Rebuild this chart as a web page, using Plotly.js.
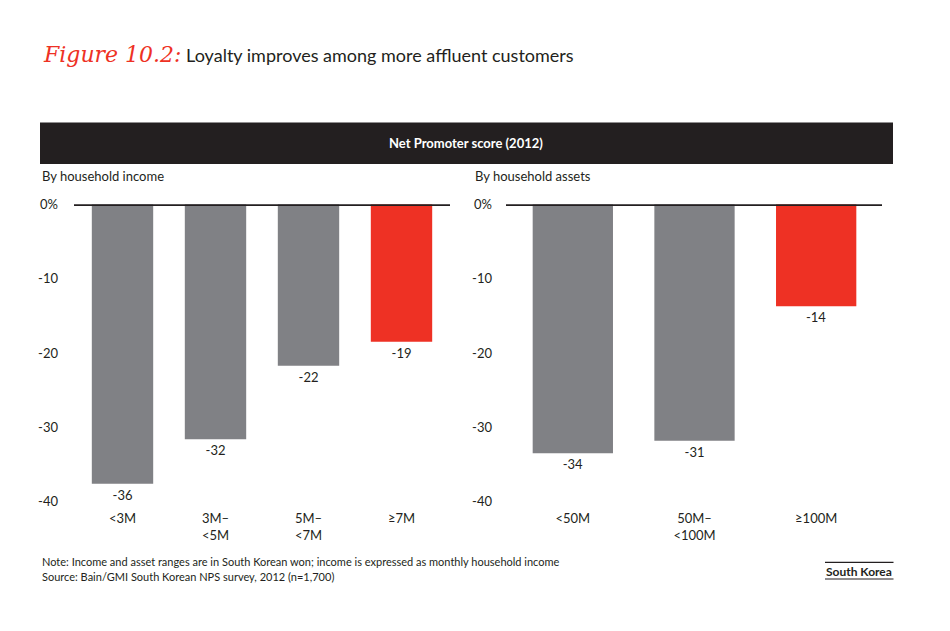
<!DOCTYPE html>
<html>
<head>
<meta charset="utf-8">
<script src="https://cdn.plot.ly/plotly-3.0.1.min.js"></script>
<style>
  html, body { margin: 0; padding: 0; background: #fff; }
  #chart { width: 950px; height: 631px; }
</style>
</head>
<body>
<div id="chart"></div>
<script>
// NPS by household income (bar heights as drawn, labels as printed)
var incomeCats = ['<3M', '3M–<br><5M', '5M–<br><7M', '≥7M'];
var incomeNps = [-37.6, -31.6, -21.7, -18.5];
var incomeLabels = ['-36', '-32', '-22', '-19'];

// NPS by household assets
var assetCats = ['<50M', '50M–<br><100M', '≥100M'];
var assetNps = [-33.5, -31.8, -13.7];
var assetLabels = ['-34', '-31', '-14'];

var yTickVals = [0, -10, -20, -30, -40];
var yTickText = ['0%', '-10', '-20', '-30', '-40'];

var GREY = '#808185';
var RED = '#ee3124';
var DARK = '#231f20';
var FONT = 'Lato, "Noto Sans", sans-serif';

// px -> paper helpers (margins are zero, so paper == page)
var W = 950, H = 631;
function px(x) { return x / W; }
function py(y) { return 1 - y / H; }

function barColors(n) {
  return Array.from({length: n}, function (_, i) { return i === n - 1 ? RED : GREY; });
}

var traces = [
  {
    type: 'bar', x: incomeCats, y: incomeNps, text: incomeLabels,
    textposition: 'outside', cliponaxis: false,
    textfont: {size: 13, color: DARK, family: FONT},
    marker: {color: barColors(incomeCats.length)},
    hoverinfo: 'skip', xaxis: 'x', yaxis: 'y'
  },
  {
    type: 'bar', x: assetCats, y: assetNps, text: assetLabels,
    textposition: 'outside', cliponaxis: false,
    textfont: {size: 13, color: DARK, family: FONT},
    marker: {color: barColors(assetCats.length)},
    hoverinfo: 'skip', xaxis: 'x2', yaxis: 'y2'
  }
];

var yDomain = [py(501.7), py(204.3)];

function xAxis(dom, anchor) {
  return {
    domain: dom, anchor: anchor, showgrid: false, zeroline: false, showline: false,
    ticks: '', tickfont: {size: 13, color: DARK, family: FONT}, fixedrange: true,
    ticklabelstandoff: 7
  };
}
function yAxis(anchor, standoff) {
  return {
    domain: yDomain, anchor: anchor, range: [-40, 0], showgrid: false, zeroline: false,
    showline: false, tickvals: yTickVals, ticktext: yTickText, ticks: '',
    ticklabelstandoff: standoff, tickfont: {size: 13, color: DARK, family: FONT}, fixedrange: true
  };
}

// plot areas: left 76-448 px, right 512-877 px; zero rules run a little wider
var leftDom = [px(76), px(448)];
var rightDom = [px(512), px(877)];

var layout = {
  width: W, height: H,
  margin: {t: 0, b: 0, l: 0, r: 0},
  paper_bgcolor: '#fff', plot_bgcolor: '#fff',
  showlegend: false,
  bargap: 0.34,
  font: {family: FONT, color: DARK},
  xaxis: xAxis(leftDom, 'y'),
  yaxis: yAxis('x', 17),
  xaxis2: xAxis(rightDom, 'y2'),
  yaxis2: yAxis('x2', 19),
  shapes: [
    // header band
    {type: 'rect', xref: 'paper', yref: 'paper', x0: px(40), x1: px(893), y0: py(164), y1: py(122.5),
     fillcolor: DARK, line: {width: 0}, layer: 'below'},
    // zero lines on top of bars
    {type: 'line', xref: 'paper', yref: 'y', x0: px(74), x1: px(450), y0: 0, y1: 0,
     line: {color: DARK, width: 3.5}, layer: 'above'},
    {type: 'line', xref: 'paper', yref: 'y2', x0: px(506), x1: px(882), y0: 0, y1: 0,
     line: {color: DARK, width: 3.5}, layer: 'above'},
    // rules around "South Korea"
    {type: 'line', xref: 'paper', yref: 'paper', x0: px(825), x1: px(893.5), y0: py(562.3), y1: py(562.3),
     line: {color: DARK, width: 1.2}},
    {type: 'line', xref: 'paper', yref: 'paper', x0: px(825), x1: px(893.5), y0: py(579), y1: py(579),
     line: {color: DARK, width: 1.2}}
  ],
  annotations: [
    {xref: 'paper', yref: 'paper', x: px(41), y: py(55), xanchor: 'left', yanchor: 'middle', showarrow: false,
     text: '<span style="font-family:\'DejaVu Serif\', serif;font-style:italic;color:' + RED + ';font-size:22px">Figure 10.2:</span> Loyalty improves among more affluent customers',
     font: {size: 18, color: DARK, family: FONT}},
    {xref: 'paper', yref: 'paper', x: px(466), y: py(143), xanchor: 'center', yanchor: 'middle', showarrow: false,
     text: '<b>Net Promoter score (2012)</b>', font: {size: 13, color: '#fff', family: FONT}},
    {xref: 'paper', yref: 'paper', x: px(40), y: py(175.5), xanchor: 'left', yanchor: 'middle', showarrow: false,
     text: 'By household income', font: {size: 13, color: DARK, family: FONT}},
    {xref: 'paper', yref: 'paper', x: px(473), y: py(175.5), xanchor: 'left', yanchor: 'middle', showarrow: false,
     text: 'By household assets', font: {size: 13, color: DARK, family: FONT}},
    {xref: 'paper', yref: 'paper', x: px(40), y: py(561), xanchor: 'left', yanchor: 'middle', showarrow: false,
     text: 'Note: Income and asset ranges are in South Korean won; income is expressed as monthly household income',
     font: {size: 11, color: DARK, family: FONT}},
    {xref: 'paper', yref: 'paper', x: px(40), y: py(576), xanchor: 'left', yanchor: 'middle', showarrow: false,
     text: 'Source: Bain/GMI South Korean NPS survey, 2012 (n=1,700)',
     font: {size: 11, color: DARK, family: FONT}},
    {xref: 'paper', yref: 'paper', x: px(893.5), y: py(571), xanchor: 'right', yanchor: 'middle', showarrow: false,
     text: '<b>South Korea</b>', font: {size: 12, color: DARK, family: FONT}}
  ]
};

Plotly.newPlot('chart', traces, layout, {displayModeBar: false, staticPlot: true});
</script>
</body>
</html>
